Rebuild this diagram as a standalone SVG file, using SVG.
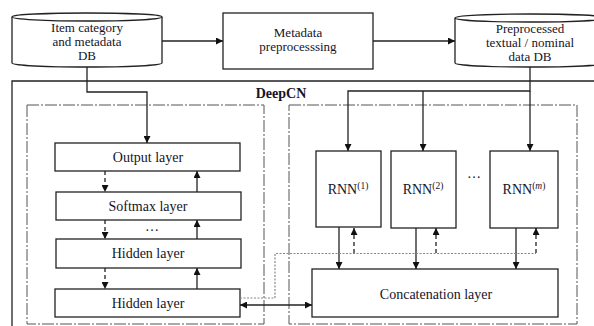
<svg xmlns="http://www.w3.org/2000/svg" width="594" height="326" viewBox="0 0 594 326">
<defs>
<marker id="ah" viewBox="0 0 10 10" refX="10" refY="5" markerWidth="7" markerHeight="7" markerUnits="userSpaceOnUse" orient="auto-start-reverse">
<path d="M0,0 L10,5 L0,10 z" fill="#111"/>
</marker>
<style>
text{font-family:'Liberation Serif','DejaVu Serif','Times New Roman',serif;font-size:14px;fill:#141428;text-anchor:middle}
.sm{font-size:13px}
.box{fill:#fff;stroke:#222;stroke-width:1.3}
.ln{fill:none;stroke:#222;stroke-width:1.3}
.dash{fill:none;stroke:#222;stroke-width:1.3;stroke-dasharray:4 3}
.dot{fill:none;stroke:#888;stroke-width:1.2;stroke-dasharray:2 1.5}
.dd{fill:none;stroke:#555;stroke-width:1;stroke-dasharray:12 2 2 2}
.sup{font-size:9.5px}
</style>
</defs>
<rect width="594" height="326" fill="#fff"/>
<g id="deepcn">
<path class="ln" d="M12,327 V81 H600"/>
<text x="281" y="98" font-weight="bold" font-family="Liberation Serif, DejaVu Serif, serif">DeepCN</text>
</g>
<g id="left-panel"><rect class="dd" x="27" y="105" width="237" height="219"/></g>
<g id="right-panel"><rect class="dd" x="289" y="105" width="288" height="219"/></g>
<g id="db1">
<path class="box" d="M12,17 V63 A75,4 0 0 0 162,63 V17"/>
<ellipse class="box" cx="87" cy="17" rx="75" ry="4"/>
<text class="sm" x="87" y="32">Item category</text>
<text class="sm" x="87" y="46">and metadata</text>
<text class="sm" x="87" y="60">DB</text>
</g>
<g id="meta">
<rect class="box" x="223" y="13" width="150" height="56"/>
<text class="sm" x="298" y="37">Metadata</text>
<text class="sm" x="298" y="51">preprocesssing</text>
</g>
<g id="db2">
<path class="box" d="M455,18 V63 A75,4 0 0 0 605,63 V18"/>
<ellipse class="box" cx="530" cy="18" rx="75" ry="4"/>
<text class="sm" x="530" y="33">Preprocessed</text>
<text class="sm" x="530" y="47">textual / nominal</text>
<text class="sm" x="530" y="61">data DB</text>
</g>
<g id="output"><rect class="box" x="55" y="143" width="185" height="28"/><text x="148" y="162">Output layer</text></g>
<g id="softmax"><rect class="box" x="56" y="192" width="185" height="28"/><text x="148" y="211">Softmax layer</text></g>
<g id="hidden1"><rect class="box" x="56" y="239" width="185" height="29"/><text x="148" y="258">Hidden layer</text></g>
<g id="hidden2"><rect class="box" x="55" y="289" width="185" height="28"/><text x="148" y="308">Hidden layer</text></g>
<g id="rnn1"><rect class="box" x="316" y="151" width="65" height="76"/><text x="348" y="194">RNN<tspan class="sup" dy="-5">(1)</tspan></text></g>
<g id="rnn2"><rect class="box" x="391" y="151" width="65" height="77"/><text x="423" y="194">RNN<tspan class="sup" dy="-5">(2)</tspan></text></g>
<g id="rnnm"><rect class="box" x="490" y="151" width="68" height="77"/><text x="524" y="194">RNN<tspan class="sup" dy="-5">(<tspan font-style="italic">m</tspan>)</tspan></text></g>
<g id="concat"><rect class="box" x="312" y="269" width="246" height="48"/><text x="436" y="299">Concatenation layer</text></g>
<g id="dots">
<text x="152" y="231" font-size="11">…</text>
<text x="474" y="178" font-size="11">…</text>
</g>
<g id="connectors">
<path class="ln" d="M162,41 H223" marker-end="url(#ah)"/>
<path class="ln" d="M373,41 H455" marker-end="url(#ah)"/>
<path class="ln" d="M87,67 V92 H147 V143" marker-end="url(#ah)"/>
<path class="ln" d="M530,67 V91 H348 V151" marker-end="url(#ah)"/>
<path class="ln" d="M423,91 V151" marker-end="url(#ah)"/>
<path class="ln" d="M530,91 V151" marker-end="url(#ah)"/>
<path class="dash" d="M105,171 V192" marker-end="url(#ah)"/>
<path class="dash" d="M105,220 V239" marker-end="url(#ah)"/>
<path class="dash" d="M105,268 V289" marker-end="url(#ah)"/>
<path class="ln" d="M197,192 V171" marker-end="url(#ah)"/>
<path class="ln" d="M197,239 V220" marker-end="url(#ah)"/>
<path class="ln" d="M197,289 V268" marker-end="url(#ah)"/>
<path class="ln" d="M339,227 V269" marker-end="url(#ah)"/>
<path class="ln" d="M416,228 V269" marker-end="url(#ah)"/>
<path class="ln" d="M516,228 V269" marker-end="url(#ah)"/>
<path class="dot" d="M240,298 H275 V253.5 H536"/>
<path class="dash" d="M354,253 V228" marker-end="url(#ah)"/>
<path class="dash" d="M436,253 V228" marker-end="url(#ah)"/>
<path class="dash" d="M536,253 V228" marker-end="url(#ah)"/>
<path class="ln" d="M240,305 H312" marker-start="url(#ah)" marker-end="url(#ah)"/>
</g>
</svg>
